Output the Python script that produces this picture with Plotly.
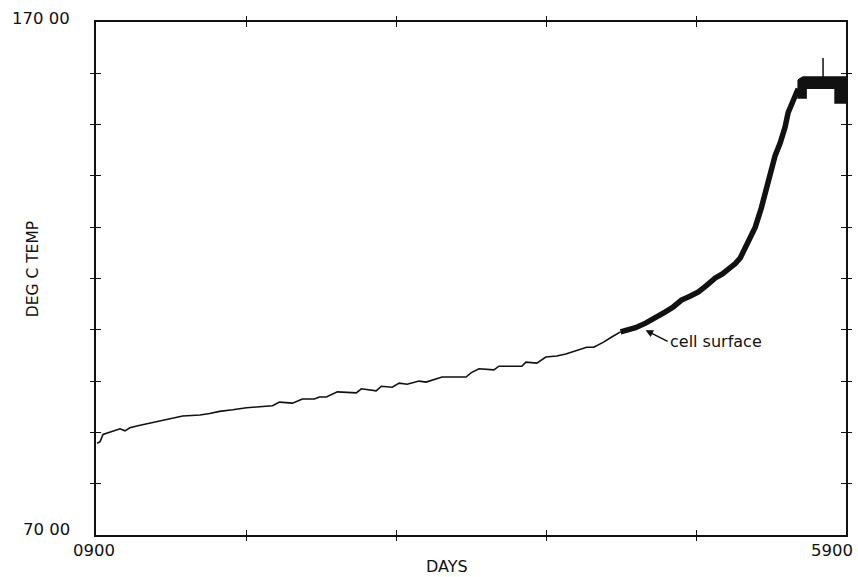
import plotly.graph_objects as go

# ---- data ----
thin_days = [907, 927, 947, 980, 1026, 1060, 1093, 1126, 1179, 1226, 1272, 1326, 1379, 1425,
             1478, 1538, 1592, 1658, 1724, 1811, 1904, 1990, 2077, 2123, 2210, 2276, 2356,
             2389, 2436, 2509, 2635, 2669, 2768, 2802, 2875, 2921, 2974, 3054, 3101, 3207,
             3274, 3320, 3367, 3400, 3453, 3553, 3586, 3666, 3739, 3766, 3839, 3899, 3972,
             4032, 4098, 4171, 4218, 4284, 4338, 4384, 4397]
thin_temp = [87.9, 88.2, 89.6, 89.9, 90.3, 90.7, 90.3, 90.9, 91.3, 91.6, 91.9, 92.3, 92.5, 92.8,
             93.2, 93.3, 93.4, 93.7, 94.1, 94.4, 94.8, 95.0, 95.2, 95.9, 95.7, 96.5, 96.5,
             96.9, 96.9, 97.9, 97.7, 98.5, 98.1, 99.0, 98.8, 99.6, 99.4, 100.0, 99.8, 100.8,
             100.8, 100.7, 100.8, 101.6, 102.4, 102.2, 102.9, 102.9, 102.9, 103.7, 103.5, 104.7, 104.9,
             105.3, 105.9, 106.6, 106.6, 107.6, 108.6, 109.3, 109.6]

thick_days = [4397, 4451, 4497, 4564, 4630, 4696, 4750, 4803, 4863, 4916, 4969, 5029, 5076,
              5115, 5162, 5195, 5235, 5262, 5295, 5335, 5362, 5381, 5401, 5428, 5461, 5494,
              5514, 5548, 5581]
thick_temp = [109.6, 110.0, 110.4, 111.3, 112.3, 113.5, 114.5, 115.8, 116.6, 117.4, 118.6, 120.1, 120.9,
              121.7, 122.9, 124.0, 126.5, 128.2, 130.0, 133.7, 136.5, 138.6, 141.0, 144.0, 146.4, 149.5,
              152.3, 154.8, 157.0]

# plateau band outline (upper edge forward, lower edge back)
plateau_days = [5581, 5614, 5747, 5747, 5747, 5900, 5900, 5827, 5827, 5634, 5634, 5581, 5581]
plateau_temp = [158.7, 159.3, 159.3, 163.0, 159.3, 159.3, 154.2, 154.2, 157.1, 157.1, 155.2, 155.2, 158.7]

x_ticks = [1900, 2900, 3900, 4900]
y_ticks = [80, 90, 100, 110, 120, 130, 140, 150, 160]
x_range = [900, 5900]
y_range = [70, 170]
x_end_labels = ["0900", "5900"]
y_end_labels = ["170 00", "70 00"]

INK = "#111111"
FONT = "DejaVu Sans"

fig = go.Figure()
fig.add_trace(go.Scatter(x=thin_days, y=thin_temp, mode="lines",
                         line=dict(color=INK, width=1.6), showlegend=False, hoverinfo="skip"))
fig.add_trace(go.Scatter(x=thick_days, y=thick_temp, mode="lines",
                         line=dict(color=INK, width=5.5), showlegend=False, hoverinfo="skip"))
fig.add_trace(go.Scatter(x=plateau_days, y=plateau_temp, mode="lines", fill="toself",
                         fillcolor=INK, line=dict(color=INK, width=1.5),
                         showlegend=False, hoverinfo="skip"))
# empty trace to bring the outside-tick axes to life
fig.add_trace(go.Scatter(x=[], y=[], xaxis="x2", yaxis="y2", showlegend=False, hoverinfo="skip"))

common = dict(showgrid=False, zeroline=False, showticklabels=False, tickcolor=INK,
              tickwidth=1.2, ticklen=5, fixedrange=True)
fig.update_layout(
    width=858, height=577,
    margin=dict(l=96, r=10, t=22, b=42),
    paper_bgcolor="white", plot_bgcolor="white",
    font=dict(family=FONT, color=INK, size=16.5),
    xaxis=dict(range=x_range, tickvals=x_ticks, ticks="inside", mirror="ticks",
               showline=True, linecolor=INK, linewidth=1.5, **common),
    yaxis=dict(range=y_range, tickvals=y_ticks, ticks="inside", mirror="ticks",
               showline=True, linecolor=INK, linewidth=1.5, **common),
    xaxis2=dict(range=x_range, tickvals=x_ticks, ticks="outside", mirror="ticks",
                overlaying="x", anchor="y", showline=False, **common),
    yaxis2=dict(range=y_range, tickvals=y_ticks, ticks="outside", mirror="ticks",
                overlaying="y", anchor="x", showline=False, **common),
)

ann = [
    dict(text=y_end_labels[0], xref="paper", yref="paper", x=0, y=1, xanchor="right",
         yanchor="middle", xshift=-24, yshift=4),
    dict(text=y_end_labels[1], xref="paper", yref="paper", x=0, y=0, xanchor="right",
         yanchor="middle", xshift=-24, yshift=6),
    dict(text=x_end_labels[0], xref="paper", yref="paper", x=0, y=0, xanchor="center",
         yanchor="top", xshift=-2, yshift=-4),
    dict(text=x_end_labels[1], xref="paper", yref="paper", x=1, y=0, xanchor="center",
         yanchor="top", xshift=-14, yshift=-4),
    dict(text="DAYS", xref="paper", yref="paper", x=0.468, y=0, xanchor="center",
         yanchor="middle", yshift=-31, font=dict(size=16)),
    dict(text="DEG C TEMP", xref="paper", yref="paper", x=0, y=0.518, xanchor="center",
         yanchor="middle", xshift=-63, textangle=-90, font=dict(size=15.5)),
    dict(text="cell surface", x=4564, y=109.9, xref="x", yref="y", showarrow=True,
         arrowhead=2, arrowsize=1, arrowwidth=1.5, arrowcolor=INK, ax=22, ay=11,
         xanchor="left", yanchor="middle", font=dict(size=16)),
]
for a in ann:
    a.setdefault("showarrow", False)
    fig.add_annotation(**a)

fig.write_html("out.html", config={"displayModeBar": False},
               post_script="document.body.style.margin='0';document.body.style.overflow='hidden';")
